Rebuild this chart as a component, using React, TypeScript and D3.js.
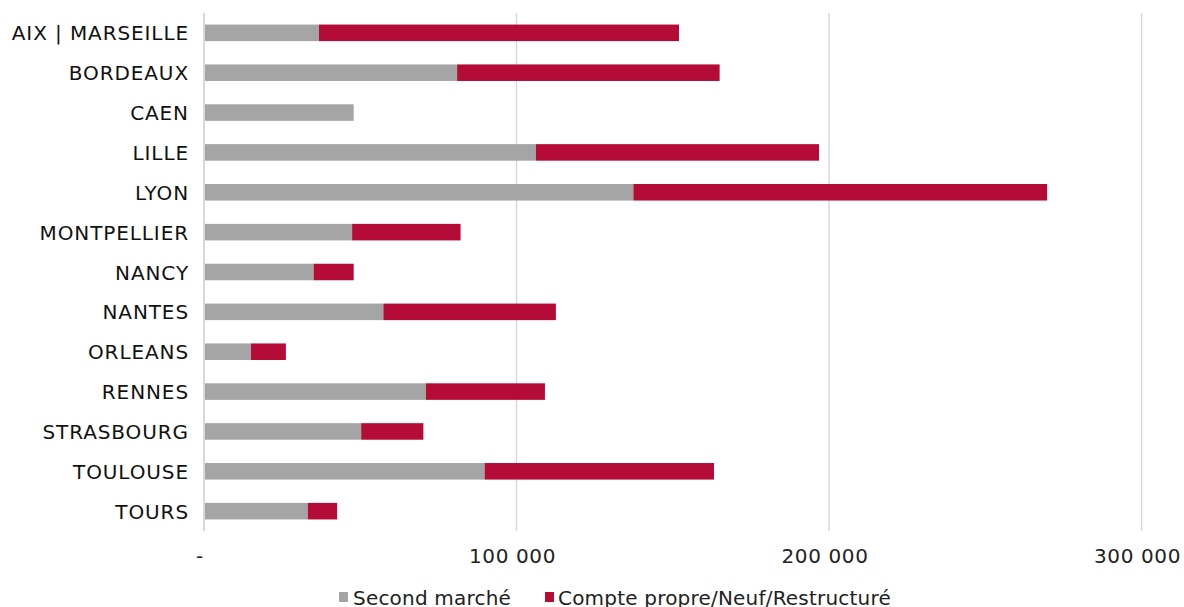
import React from "react";
import * as d3 from "d3";

const cities = ["AIX | MARSEILLE","BORDEAUX","CAEN","LILLE","LYON","MONTPELLIER","NANCY","NANTES","ORLEANS","RENNES","STRASBOURG","TOULOUSE","TOURS"];
const secondMarche = [36800, 81000, 47900, 106200, 137400, 47400, 35100, 57400, 15000, 71000, 50300, 89800, 33200];
const comptePropre = [115200, 84000, 0, 90600, 132400, 34700, 12800, 55200, 11200, 38100, 19900, 73400, 9400];
const xTicks = [0, 100000, 200000, 300000];
const seriesNames = ["Second marché", "Compte propre/Neuf/Restructuré"];
const colors = ["#A5A5A5", "#B50B37"];

const W = 1184, H = 607;
const FONT = "'DejaVu Sans', sans-serif";

export default function App() {
  const x = d3.scaleLinear().domain([0, 300000]).range([204, 1141.5]);
  const y = d3.scaleBand<string>().domain(cities).range([13, 531]).paddingInner(0.585).paddingOuter(0.29);
  const fmt = (v: number) => (v === 0 ? "-" : d3.format(",")(v).replace(/,/g, " "));
  const data = cities.map((c, i) => ({ c, a: secondMarche[i], b: comptePropre[i] }));
  const stack = d3.stack<any>().keys(["a", "b"])(data as any);

  return (
    <svg width={W} height={H} style={{ position: "absolute", left: 0, top: 0, background: "#fff" }}>
      {xTicks.slice(1).map((t) => (
        <line key={t} x1={x(t)} x2={x(t)} y1={13} y2={531} stroke="#D9D9D9" strokeWidth={1.5} />
      ))}
      {stack.map((s, si) => (
        <g key={si} fill={colors[si]}>
          {s.map((d: any, i: number) =>
            d[1] - d[0] > 0 ? (
              <rect key={i} x={x(d[0])} y={y(cities[i])} width={x(d[1]) - x(d[0])} height={y.bandwidth()} />
            ) : null
          )}
        </g>
      ))}
      <line x1={204} x2={204} y1={13} y2={531} stroke="#D9D9D9" strokeWidth={2} />
      {cities.map((c) => (
        <text key={c} x={189} y={y(c)! + y.bandwidth() / 2} dy="0.38em" textAnchor="end"
          fontFamily={FONT} fontSize={20} letterSpacing={0.9} fill="#111">{c}</text>
      ))}
      {xTicks.map((t) => (
        <text key={t} x={x(t) - 4} y={563} textAnchor="middle" fontFamily={FONT} fontSize={20} fill="#222" letterSpacing={0.6}>{fmt(t)}</text>
      ))}
      <g fontFamily={FONT} fontSize={20} fill="#222" letterSpacing={0.2}>
        <rect x={339} y={592} width={9} height={10} fill={colors[0]} />
        <text x={353} y={605}>{seriesNames[0]}</text>
        <rect x={545} y={592} width={9} height={10} fill={colors[1]} />
        <text x={558} y={605}>{seriesNames[1]}</text>
      </g>
    </svg>
  );
}
